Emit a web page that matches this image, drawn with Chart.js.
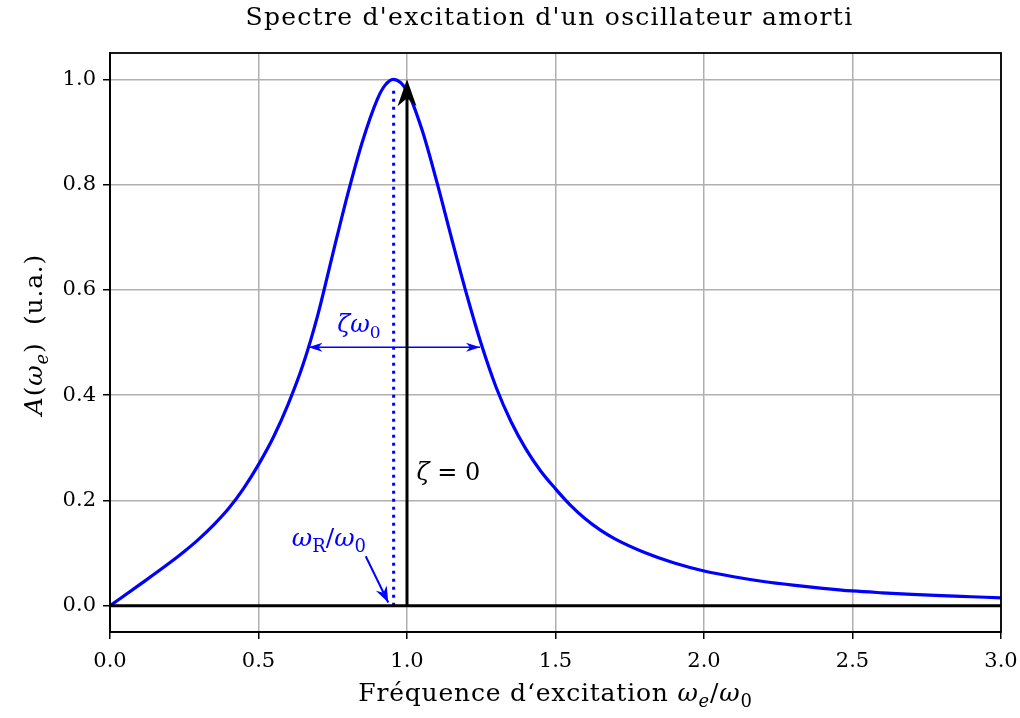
<!DOCTYPE html>
<html><head><meta charset="utf-8">
<script src="https://cdn.jsdelivr.net/npm/chart.js@4"></script>
<style>html,body{margin:0;padding:0;background:#fff}</style>
</head><body>
<canvas id="c" width="1020" height="718"></canvas>
<script>
// ---- data ----
const freq      = [0, 0.10, 0.20, 0.25, 0.30, 0.35, 0.40, 0.45, 0.50, 0.55, 0.60, 0.65, 0.70, 0.75, 0.80, 0.85, 0.90, 0.925, 0.954, 1.00, 1.05, 1.10, 1.15, 1.20, 1.25, 1.30, 1.35, 1.40, 1.45, 1.50, 1.55, 1.60, 1.65, 1.70, 1.80, 1.90, 2.00, 2.10, 2.20, 2.30, 2.40, 2.50, 2.60, 2.70, 2.80, 2.90, 3.00];
const amplitude = [0, 0.040, 0.081, 0.103, 0.127, 0.154, 0.185, 0.223, 0.268, 0.320, 0.383, 0.458, 0.553, 0.668, 0.781, 0.882, 0.962, 0.988, 1.000, 0.978, 0.905, 0.806, 0.698, 0.593, 0.497, 0.415, 0.350, 0.298, 0.256, 0.222, 0.191, 0.165, 0.144, 0.127, 0.101, 0.081, 0.066, 0.055, 0.046, 0.039, 0.033, 0.028, 0.0245, 0.0215, 0.019, 0.017, 0.015];
const xTicks = [0, 0.5, 1.0, 1.5, 2.0, 2.5, 3.0];
const yTicks = [0, 0.2, 0.4, 0.6, 0.8, 1.0];
const baselineX = [0, 3];          const baselineY = [0, 0];
const undampedX = [1, 1];          const undampedY = [0, 0.97];  const undampedTip = 1.0;
const resonanceX = [0.955, 0.955]; const resonanceY = [0, 0.98];
const widthX = [0.668, 1.246];     const widthY = [0.491, 0.491];
const pointerX = [0.861, 0.937];   const pointerY = [0.094, 0.006];
const labelTitle = "Spectre d'excitation d'un oscillateur amorti";
const labelX = [["Fréquence d‘excitation ", "r"], ["ω", "i"], ["e", "si"], ["/", "r"], ["ω", "i"], ["0", "s"]];
const labelY = [["A", "i"], ["(", "r"], ["ω", "i"], ["e", "si"], [")  (u.a.)", "r"]];
const annWidth = {x: 0.838, y: 0.52, parts: [["ζ", "i"], ["ω", "i"], ["0", "s"]]};
const annZeta  = {x: 1.032, y: 0.238, parts: [["ζ", "i"], [" = 0", "r"]]};
const annRes   = {x: 0.737, y: 0.114, parts: [["ω", "i"], ["R", "s"], ["/", "r"], ["ω", "i"], ["0", "s"]]};

const FAM = "'DejaVu Serif', serif";
const BLUE = '#0000ff';
const pts = (xs, ys) => xs.map((x, i) => ({x, y: ys[i]}));

function drawRich(ctx, parts, x, y, align, color, size, spacing) {
  ctx.letterSpacing = (spacing || 0) + 'px';
  const fonts = parts.map(p => {
    const s = p[1];
    if (s === 's') return `${Math.round(size * 0.7)}px ${FAM}`;
    if (s === 'si') return `italic ${Math.round(size * 0.7)}px ${FAM}`;
    if (s === 'i') return `italic ${size}px ${FAM}`;
    return `${size}px ${FAM}`;
  });
  let w = 0;
  const ws = parts.map((p, i) => { ctx.font = fonts[i]; const m = ctx.measureText(p[0]).width; w += m; return m; });
  let cx = align === 'center' ? x - w / 2 : (align === 'right' ? x - w : x);
  ctx.fillStyle = color; ctx.textBaseline = 'alphabetic'; ctx.textAlign = 'left';
  parts.forEach((p, i) => {
    ctx.font = fonts[i];
    const dy = (p[1] === 's' || p[1] === 'si') ? size * 0.25 : 0;
    ctx.fillText(p[0], cx, y + dy);
    cx += ws[i];
  });
  ctx.letterSpacing = '0px';
}

function stealth(ctx, tx, ty, fx, fy, len, half, notch, color) {
  const ang = Math.atan2(ty - fy, tx - fx);
  const c = Math.cos(ang), s = Math.sin(ang);
  const bx = tx - len * c, by = ty - len * s;
  const nx = tx - notch * c, ny = ty - notch * s;
  ctx.beginPath();
  ctx.moveTo(tx, ty);
  ctx.lineTo(bx - half * s, by + half * c);
  ctx.lineTo(nx, ny);
  ctx.lineTo(bx + half * s, by - half * c);
  ctx.closePath();
  ctx.fillStyle = color; ctx.fill();
}

const decor = {
  id: 'decor',
  afterDraw(chart) {
    const {ctx, chartArea: a, scales: {x, y}} = chart;
    ctx.save();
    stealth(ctx, x.getPixelForValue(undampedX[1]), y.getPixelForValue(undampedTip),
            x.getPixelForValue(undampedX[0]), y.getPixelForValue(undampedY[0]), 27, 9.5, 19, '#000');
    stealth(ctx, x.getPixelForValue(widthX[0]), y.getPixelForValue(widthY[0]),
            x.getPixelForValue(widthX[1]), y.getPixelForValue(widthY[1]), 14, 4.5, 10, BLUE);
    stealth(ctx, x.getPixelForValue(widthX[1]), y.getPixelForValue(widthY[1]),
            x.getPixelForValue(widthX[0]), y.getPixelForValue(widthY[0]), 14, 4.5, 10, BLUE);
    stealth(ctx, x.getPixelForValue(pointerX[1]), y.getPixelForValue(pointerY[1]),
            x.getPixelForValue(pointerX[0]), y.getPixelForValue(pointerY[0]), 16, 6, 11, BLUE);
    ctx.strokeStyle = '#000'; ctx.lineWidth = 1.8;
    ctx.strokeRect(a.left, a.top, a.right - a.left, a.bottom - a.top);
    drawRich(ctx, annWidth.parts, x.getPixelForValue(annWidth.x), y.getPixelForValue(annWidth.y), 'center', BLUE, 24);
    drawRich(ctx, annZeta.parts, x.getPixelForValue(annZeta.x), y.getPixelForValue(annZeta.y), 'left', '#000', 24);
    drawRich(ctx, annRes.parts, x.getPixelForValue(annRes.x), y.getPixelForValue(annRes.y), 'center', BLUE, 25);
    const cx = (a.left + a.right) / 2;
    drawRich(ctx, [[labelTitle, 'r']], cx - 6, 25, 'center', '#000', 25, 1.3);
    drawRich(ctx, labelX, cx, 701, 'center', '#000', 25, 0.8);
    ctx.translate(42, (a.top + a.bottom) / 2 - 8);
    ctx.rotate(-Math.PI / 2);
    drawRich(ctx, labelY, 0, 0, 'center', '#000', 25, 0.8);
    ctx.restore();
  }
};

const zeroPad = s => { s.paddingLeft = 0; s.paddingRight = 0; s.paddingTop = 0; s.paddingBottom = 0; };

new Chart(document.getElementById('c'), {
  type: 'scatter',
  data: {
    datasets: [
      {data: pts(freq, amplitude), showLine: true, borderColor: BLUE, borderWidth: 3.2, pointRadius: 0, cubicInterpolationMode: 'monotone', order: 5},
      {data: pts(resonanceX, resonanceY), showLine: true, borderColor: BLUE, borderWidth: 3, borderDash: [3, 5], pointRadius: 0, order: 4},
      {data: pts(widthX, widthY), showLine: true, borderColor: BLUE, borderWidth: 1.5, pointRadius: 0, order: 3},
      {data: pts(pointerX, pointerY), showLine: true, borderColor: BLUE, borderWidth: 2, pointRadius: 0, order: 2},
      {data: pts(baselineX, baselineY), showLine: true, borderColor: '#000', borderWidth: 3, pointRadius: 0, order: 1},
      {data: pts(undampedX, undampedY), showLine: true, borderColor: '#000', borderWidth: 3, pointRadius: 0, order: 0}
    ]
  },
  options: {
    responsive: false, animation: false,
    layout: {padding: {top: 53, right: 19, left: 0, bottom: 0}},
    plugins: {legend: {display: false}, tooltip: {enabled: false}},
    scales: {
      x: {
        type: 'linear', min: 0, max: 3,
        afterFit: s => { s.height = 86; zeroPad(s); },
        afterBuildTicks: s => { s.ticks = xTicks.map(v => ({value: v})); },
        ticks: {callback: v => v.toFixed(1), color: '#000', font: {family: FAM, size: 21}, padding: 10, maxRotation: 0},
        grid: {color: '#b0b0b0', lineWidth: 1.5, tickColor: '#000', tickLength: 7, tickWidth: 1.5},
        border: {color: '#000', width: 1.8}
      },
      y: {
        type: 'linear', min: -0.05, max: 1.05,
        afterFit: s => { s.width = 110; zeroPad(s); },
        afterBuildTicks: s => { s.ticks = yTicks.map(v => ({value: v})); },
        ticks: {callback: v => v.toFixed(1), color: '#000', font: {family: FAM, size: 21}, padding: 7},
        grid: {color: '#b0b0b0', lineWidth: 1.5, tickColor: '#000', tickLength: 7, tickWidth: 1.5},
        border: {color: '#000', width: 1.8}
      }
    }
  },
  plugins: [decor]
});
</script>
</body></html>
